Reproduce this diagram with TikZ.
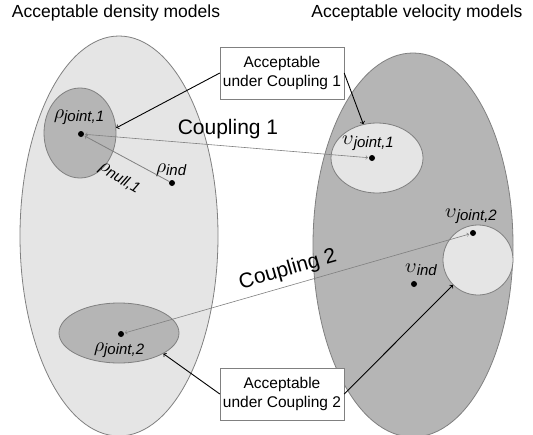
\documentclass[tikz,border=0pt]{standalone}
\usepackage{graphicx}
\usepackage{fontspec}
\setmainfont{Liberation Sans}
\usetikzlibrary{arrows,shapes,positioning}

\definecolor{lightset}{gray}{0.90}
\definecolor{darkset}{gray}{0.71}
\definecolor{rim}{gray}{0.50}

% model symbol with a lowered subscript
\newcommand{\msym}[2]{\scalebox{2}{$#1$}\raisebox{-3pt}{\fontsize{15}{15}\selectfont\itshape #2}}

\begin{document}
\begin{tikzpicture}[x=1pt,y=-1pt,
  set/.style={ellipse,draw=rim,line width=0.8pt,inner sep=0pt},
  ele/.style={fill=black,circle,minimum size=6pt,inner sep=0pt},
  box/.style={draw=rim,fill=white,align=center,font=\fontsize{15.5}{19}\selectfont,minimum width=124pt,minimum height=52pt,inner sep=0pt},
  cpl/.style={<->,draw=gray,line width=0.6pt,shorten <=1pt,shorten >=1pt},
  pnt/.style={->,line width=0.9pt},
  ttl/.style={font=\fontsize{17.5}{20}\selectfont}]
  \useasboundingbox (0,0) rectangle (533,434);
  \clip (0,0) rectangle (533,434);

  \node[ttl] (td) at (116,13) {Acceptable density models};
  \node[ttl] (tv) at (417,13) {Acceptable velocity models};

  % the two model spaces
  \node[set,fill=lightset,minimum width=198pt,minimum height=400pt] (dens) at (119,236) {};
  \node[set,fill=darkset,minimum width=200pt,minimum height=384pt] (vel) at (413,245) {};

  % acceptable regions
  \node[set,fill=darkset,minimum width=72pt,minimum height=90pt] (ra) at (80,133) {};
  \node[set,fill=darkset,minimum width=120pt,minimum height=60pt] (rb) at (119,333) {};
  \node[set,fill=lightset,minimum width=92pt,minimum height=70pt] (va) at (377,158) {};
  \node[set,fill=lightset,circle,minimum size=70pt] (vb) at (478,260) {};

  % models
  \node[ele] (rj1) at (81,134) {};
  \node[ele] (rind) at (172,183) {};
  \node[ele] (rj2) at (121,334) {};
  \node[ele] (vj1) at (372,158) {};
  \node[ele] (vj2) at (473,233) {};
  \node[ele] (vind) at (414,284) {};

  \node (lrj1) at (79,117) {\msym{\rho}{joint,1}};
  \node (lrind) at (171,170) {\msym{\rho}{ind}};
  \node (lrj2) at (119,350) {\msym{\rho}{joint,2}};
  \node (lvj1) at (368,143) {\msym{\upsilon}{joint,1}};
  \node (lvj2) at (471,216) {\msym{\upsilon}{joint,2}};
  \node (lvind) at (421,270) {\msym{\upsilon}{ind}};

  \draw[->,draw=rim,line width=0.8pt,shorten >=1pt] (rind) -- (rj1);
  \node[rotate=-30] (lnull) at (119,178) {\msym{\rho}{null,1}};

  % couplings
  \draw[cpl] (rj1) -- (vj1);
  \draw[cpl] (rj2) -- (vj2);
  \node[font=\fontsize{21}{24}\selectfont] (c1) at (228,129) {Coupling 1};
  \node[font=\fontsize{21}{24}\selectfont,rotate=16] (c2) at (288,270) {Coupling 2};

  \node[box] (b1) at (282,73) {Acceptable\\under Coupling 1};
  \node[box] (b2) at (282,394) {Acceptable\\under Coupling 2};

  \draw[pnt] (b1.west) -- (ra.8);
  \draw[pnt] (b1.east) -- (va.112);
  \draw[pnt] (b2.west) -- (rb.-25);
  \draw[pnt] (b2.east) -- (vb.225);
\end{tikzpicture}
\end{document}
